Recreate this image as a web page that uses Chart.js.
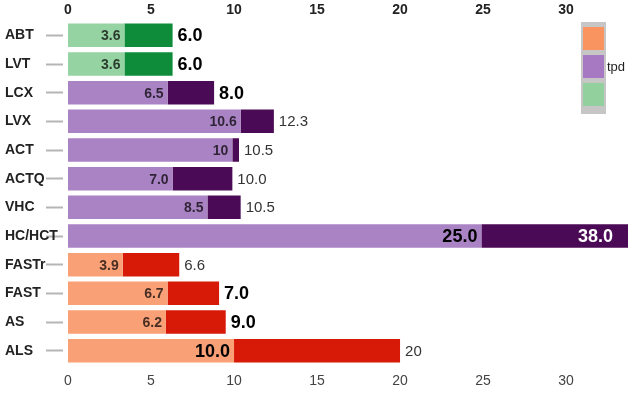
<!DOCTYPE html>
<html>
<head>
<meta charset="utf-8">
<script src="https://cdn.jsdelivr.net/npm/chart.js@4/dist/chart.umd.min.js"></script>
<style>
  html, body { margin: 0; padding: 0; background: #fff; }
  #wrap { width: 633px; height: 393px; position: relative; }
</style>
</head>
<body>
<div id="wrap"><canvas id="bars"></canvas></div>
<script>
// chart data
const categories = ['ABT', 'LVT', 'LCX', 'LVX', 'ACT', 'ACTQ', 'VHC', 'HC/HCT', 'FASTr', 'FAST', 'AS', 'ALS'];
const groups = ['green', 'green', 'purple', 'purple', 'purple', 'purple', 'purple', 'purple', 'orange', 'orange', 'orange', 'orange'];
// bar ends as drawn
const lightEnd = [3.4, 3.4, 6.0, 10.4, 9.9, 6.3, 8.4, 24.9, 3.3, 6.0, 5.9, 10.0];
const darkEnd = [6.3, 6.3, 8.8, 12.4, 10.3, 9.9, 10.4, 38.0, 6.7, 9.1, 9.5, 20.0];
// printed values
const lightLabels = ['3.6', '3.6', '6.5', '10.6', '10', '7.0', '8.5', '25.0', '3.9', '6.7', '6.2', '10.0'];
const darkLabels = ['6.0', '6.0', '8.0', '12.3', '10.5', '10.0', '10.5', '38.0', '6.6', '7.0', '9.0', '20'];
const xTicks = [0, 5, 10, 15, 20, 25, 30];
const legendLabel = 'tpd';

// styles
const lightColors = { green: '#95d3a2', purple: '#aa83c4', orange: '#f9a077' };
const darkColors = { green: '#0f8c3a', purple: '#4b0a55', orange: '#d71a08' };
const keyColors = ['#f99460', '#a679c2', '#92d19e'];
const lightLabelBig = [false, false, false, false, false, false, false, true, false, false, false, true];
const darkLabelKind = ['big', 'big', 'big', 'small', 'small', 'small', 'small', 'inside', 'small', 'big', 'big', 'small'];

const FONT = "'Liberation Sans', Arial, sans-serif";

const valueLabels = {
    id: 'valueLabels',
    afterDatasetsDraw(chart) {
        const ctx = chart.ctx;
        const area = chart.chartArea;
        const lightMeta = chart.getDatasetMeta(0);
        const darkMeta = chart.getDatasetMeta(1);
        ctx.save();
        ctx.textBaseline = 'middle';
        categories.forEach((c, i) => {
            const lb = lightMeta.data[i];
            const db = darkMeta.data[i];
            // light value, inside the end of the light bar
            ctx.textAlign = 'right';
            if (lightLabelBig[i]) {
                ctx.font = 'bold 18px ' + FONT;
                ctx.fillStyle = '#000';
            } else {
                ctx.font = 'bold 14px ' + FONT;
                ctx.fillStyle = 'rgba(0,0,0,0.72)';
            }
            ctx.fillText(lightLabels[i], lb.x - 4, lb.y + 1);

            // total value
            const kind = darkLabelKind[i];
            if (kind === 'inside') {
                ctx.font = 'bold 18px ' + FONT;
                ctx.fillStyle = '#fff';
                ctx.textAlign = 'right';
                ctx.fillText(darkLabels[i], Math.min(db.x, area.right) - 15, db.y + 1);
            } else {
                ctx.textAlign = 'left';
                if (kind === 'big') {
                    ctx.font = 'bold 18px ' + FONT;
                    ctx.fillStyle = '#000';
                } else {
                    ctx.font = '15px ' + FONT;
                    ctx.fillStyle = '#333';
                }
                ctx.fillText(darkLabels[i], db.x + 5, db.y + 1);
            }
        });
        ctx.restore();
    },
    afterDraw(chart) {
        // small color key, top right
        const ctx = chart.ctx;
        ctx.save();
        ctx.fillStyle = '#c6c6c6';
        ctx.fillRect(581, 22, 25, 92);
        keyColors.forEach((col, k) => {
            ctx.fillStyle = col;
            ctx.fillRect(583, 27 + k * 28, 21, 23);
        });
        ctx.fillStyle = '#222';
        ctx.font = '13px ' + FONT;
        ctx.textAlign = 'left';
        ctx.textBaseline = 'middle';
        ctx.fillText(legendLabel, 607, 67);
        ctx.restore();
    }
};

const xAxis = (pos, h, pad, weight, color) => ({
    type: 'linear',
    position: pos,
    min: 0,
    max: 33.73,
    grid: { display: false, drawTicks: false },
    border: { display: false },
    afterBuildTicks: (s) => { s.ticks = xTicks.map(v => ({ value: v })); },
    afterFit: (s) => { s.height = h; },
    ticks: {
        padding: pad,
        color: color,
        font: { family: FONT, size: 14, weight: weight },
        maxRotation: 0
    }
});

new Chart(document.getElementById('bars'), {
    type: 'bar',
    data: {
        labels: categories,
        datasets: [
            {
                label: 'light',
                data: lightEnd,
                backgroundColor: groups.map(g => lightColors[g]),
                xAxisID: 'x',
                barPercentage: 0.82,
                categoryPercentage: 1
            },
            {
                label: 'dark',
                data: lightEnd.map((v, i) => [v, darkEnd[i]]),
                backgroundColor: groups.map(g => darkColors[g]),
                xAxisID: 'x',
                barPercentage: 0.82,
                categoryPercentage: 1
            }
        ]
    },
    options: {
        indexAxis: 'y',
        responsive: true,
        maintainAspectRatio: false,
        animation: false,
        layout: { padding: { left: 5, right: 5, top: 0, bottom: 0 } },
        plugins: { legend: { display: false }, tooltip: { enabled: false } },
        scales: {
            x: xAxis('bottom', 28, 8, 'normal', '#444'),
            x2: xAxis('top', 21, 2, 'bold', '#222'),
            y: {
                stacked: true,
                offset: true,
                grid: {
                    display: true,
                    offset: false,
                    drawOnChartArea: false,
                    drawTicks: true,
                    tickLength: 22,
                    tickWidth: 2,
                    tickColor: '#b5b5b5',
                    tickBorderDash: [17, 5]
                },
                border: { display: false },
                afterFit: (s) => { s.width = 63; },
                ticks: {
                    crossAlign: 'far',
                    color: '#222',
                    font: { family: FONT, size: 14, weight: 'bold' }
                }
            }
        }
    },
    plugins: [valueLabels]
});
</script>
</body>
</html>
